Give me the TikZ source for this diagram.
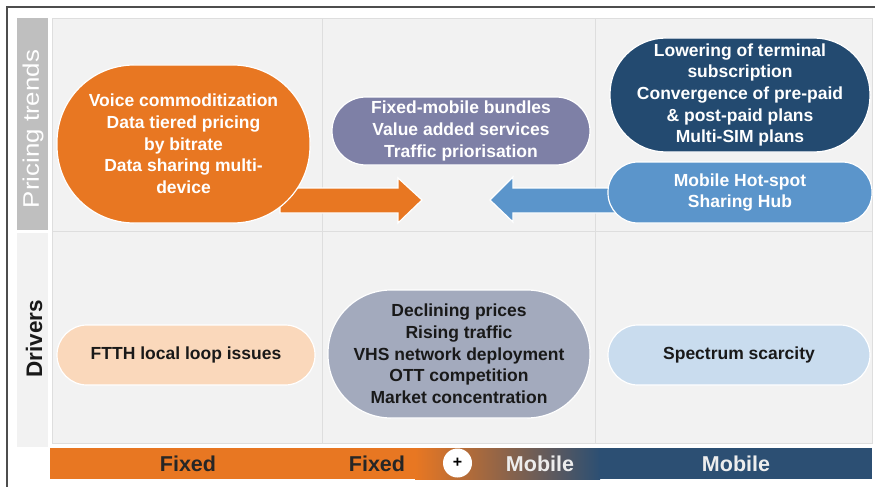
\documentclass[tikz,border=0pt]{standalone}
\usepackage{fontspec}
\setmainfont{Liberation Sans}
\usetikzlibrary{calc}
\definecolor{trendorange}{HTML}{E87722}
\definecolor{bundlepurple}{HTML}{7E80A6}
\definecolor{mobnavy}{HTML}{234A70}
\definecolor{hotblue}{HTML}{5B95CB}
\definecolor{ftthpeach}{HTML}{FAD8BB}
\definecolor{drvslate}{HTML}{A3AABD}
\definecolor{specblue}{HTML}{C9DCEE}
\definecolor{panelgray}{HTML}{F2F2F2}
\definecolor{gridgray}{HTML}{DEDEDE}
\definecolor{sidegray}{HTML}{BFBFBF}
\definecolor{framegray}{HTML}{4D4D4D}
\definecolor{barnavy}{HTML}{2C4F73}
\definecolor{barmauve}{HTML}{946A72}
\tikzset{
  pill/.style={draw=white, line width=1.2pt, align=center, inner sep=0pt,
    font=\fontsize{17.5}{21.7}\selectfont\bfseries},
  cell/.style={fill=panelgray, draw=gridgray, line width=0.8pt},
  blockarrow/.style={draw=white, line width=1.2pt},
  barlabel/.style={font=\fontsize{21.5}{24}\selectfont\bfseries}
}
\begin{document}
\begin{tikzpicture}[x=1pt, y=-1pt]
    \useasboundingbox (0,0) rectangle (875,487);
    \draw[framegray, line width=1.2pt] (7,487) -- (7,7) -- (875,7);

    % grid of cells
    \foreach \xa/\xb in {52/322, 322/595, 595/872}
      \foreach \ya/\yb in {18/231, 231/443}
        \draw[cell] (\xa,\ya) rectangle (\xb,\yb);

    \fill[sidegray] (17,18) rectangle (48,230);
    \fill[panelgray] (17,233) rectangle (48,447);
    \node[rotate=90, text=white, font=\fontsize{22.5}{26}\selectfont] (ptlabel)
      at (33,129) {\scalebox{1.15}[1]{Pricing trends}};
    \node[rotate=90, text=black!90, font=\fontsize{22.5}{26}\selectfont\bfseries] (drvlabel)
      at (34,338.5) {Drivers};

    % block arrows
    \coordinate (otip) at (422,200);
    \coordinate (btip) at (490,200);
    \filldraw[trendorange, blockarrow] (280,188) -- (398,188) -- (398,178) -- (otip)
      -- (398,223) -- (398,213) -- (280,213) -- cycle;
    \filldraw[hotblue, blockarrow] (btip) -- (513,177) -- (513,188) -- (625,188)
      -- (625,213) -- (513,213) -- (513,222) -- cycle;

    % pricing trends
    \node[pill, fill=trendorange, text=white, minimum width=253, minimum height=158,
      rounded corners=77] (voice) at (183.5,144)
      {Voice commoditization\\Data tiered pricing\\by bitrate\\Data sharing multi-\\device};
    \node[pill, fill=bundlepurple, text=white, minimum width=258, minimum height=68,
      rounded corners=34] (bundles) at (461,131)
      {Fixed-mobile bundles\\Value added services\\Traffic priorisation};
    \node[pill, fill=mobnavy, text=white, minimum width=260, minimum height=114,
      rounded corners=56] (lowering) at (740,95)
      {Lowering of terminal\\subscription\\Convergence of pre-paid\\\& post-paid plans\\Multi-SIM plans};
    \node[pill, fill=hotblue, text=white, minimum width=264, minimum height=61,
      rounded corners=30] (hotspot) at (740,192.5)
      {Mobile Hot-spot\\Sharing Hub};

    % drivers
    \node[pill, fill=ftthpeach, text=black!90, minimum width=258, minimum height=60,
      rounded corners=30] (ftth) at (186,355) {FTTH local loop issues};
    \node[pill, fill=drvslate, text=black!90, minimum width=262, minimum height=128,
      rounded corners=63] (prices) at (459,354)
      {Declining prices\\Rising traffic\\VHS network deployment\\OTT competition\\Market concentration};
    \node[pill, fill=specblue, text=black!90, minimum width=262, minimum height=60,
      rounded corners=30] (spectrum) at (739,355) {Spectrum scarcity};

    % fixed / mobile bar
    \fill[trendorange] (50,448) rectangle (416,479);
    \shade[left color=trendorange, middle color=barmauve, right color=barnavy]
      (415,448) rectangle (600,479);
    \fill[barnavy] (599,448) rectangle (872,479);
    \node[barlabel, text=black!85] (fixa) at (188,464) {Fixed};
    \node[barlabel, text=black!85] (fixb) at (377,464) {Fixed};
    \node[circle, fill=white, minimum size=29, inner sep=0pt,
      font=\fontsize{16}{16}\selectfont\bfseries] (plus) at (457.5,463) {+};
    \node[barlabel, text=white!93!black] (moba) at (540,464) {Mobile};
    \node[barlabel, text=white!93!black] (mobb) at (736,464) {Mobile};
\end{tikzpicture}
\end{document}
